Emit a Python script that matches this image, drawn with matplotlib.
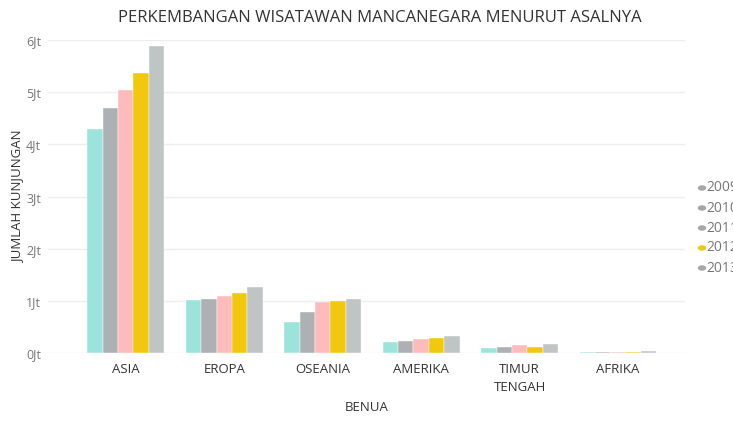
import matplotlib
matplotlib.use("Agg")
import matplotlib.pyplot as plt
import numpy as np

plt.rcParams['font.family'] = ['Open Sans', 'DejaVu Sans']

categories = ["ASIA", "EROPA", "OSEANIA", "AMERIKA", "TIMUR\nTENGAH", "AFRIKA"]
years = ["2009", "2010", "2011", "2012", "2013"]
# values in millions (Jt)
v2009 = [4.29, 1.015, 0.60, 0.22, 0.10, 0.020]
v2010 = [4.70, 1.04, 0.80, 0.24, 0.13, 0.022]
v2011 = [5.05, 1.10, 0.98, 0.28, 0.15, 0.026]
v2012 = [5.36, 1.155, 1.00, 0.30, 0.13, 0.030]
v2013 = [5.89, 1.27, 1.04, 0.33, 0.17, 0.035]
series = [v2009, v2010, v2011, v2012, v2013]
bar_colors = ["#9ce3dc", "#adb1b3", "#fdbcbb", "#f2c80f", "#bfc4c4"]
legend_colors = ["#a6a6a6", "#a6a6a6", "#a6a6a6", "#f2c80f", "#a6a6a6"]
yticks = [0, 1, 2, 3, 4, 5, 6]
ytick_labels = ["0Jt", "1Jt", "2Jt", "3Jt", "4Jt", "5Jt", "6Jt"]

W, H = 733, 422
fig = plt.figure(figsize=(W / 100, H / 100), dpi=100)
left, right = 48 / W, 685 / W
bottom, top = (H - 353.3) / H, (H - 40) / H
ax = fig.add_axes([left, bottom, right - left, top - bottom])

x = np.arange(len(categories))
bw = 0.156
for i, (vals, c) in enumerate(zip(series, bar_colors)):
    ax.bar(x + (i - 2) * bw, vals, width=bw, color=c, edgecolor="white", linewidth=0.3, zorder=3)

ax.set_xlim(-0.79, 5.68)
ax.set_ylim(0, 6.0)
ax.set_yticks(yticks)
ax.set_yticklabels(ytick_labels, color="#777777", fontsize=9)
ax.set_xticks(x)
ax.set_xticklabels(categories, color="#333333", fontsize=9.5, linespacing=1.5)
ax.tick_params(axis="x", length=0, pad=7)
ax.tick_params(axis="y", length=0, pad=5)
ax.grid(axis="y", color="#eeeeee", linewidth=1, zorder=0)
for s in ax.spines.values():
    s.set_visible(False)

ax.set_ylabel("JUMLAH KUNJUNGAN", fontsize=9.5, color="#333333", labelpad=1)
ax.set_xlabel("BENUA", fontsize=9.5, color="#333333", labelpad=5)
fig.text(380 / W, 1 - 18 / H, "PERKEMBANGAN WISATAWAN MANCANEGARA MENURUT ASALNYA",
         ha="center", va="center", fontsize=12, color="#333333")

# legend on right (clipped at figure edge, as in the reference)
for i, (yr, lc) in enumerate(zip(years, legend_colors)):
    yp = 1 - (188 + 20 * i) / H
    fig.patches.append(matplotlib.patches.Circle((702 / W, yp), 3.5 / W, transform=fig.transFigure,
                                                 color=lc, figure=fig))
    fig.text(706 / W, yp, yr, ha="left", va="center", fontsize=10, color="#777777")

fig.savefig("out.png", dpi=100)
